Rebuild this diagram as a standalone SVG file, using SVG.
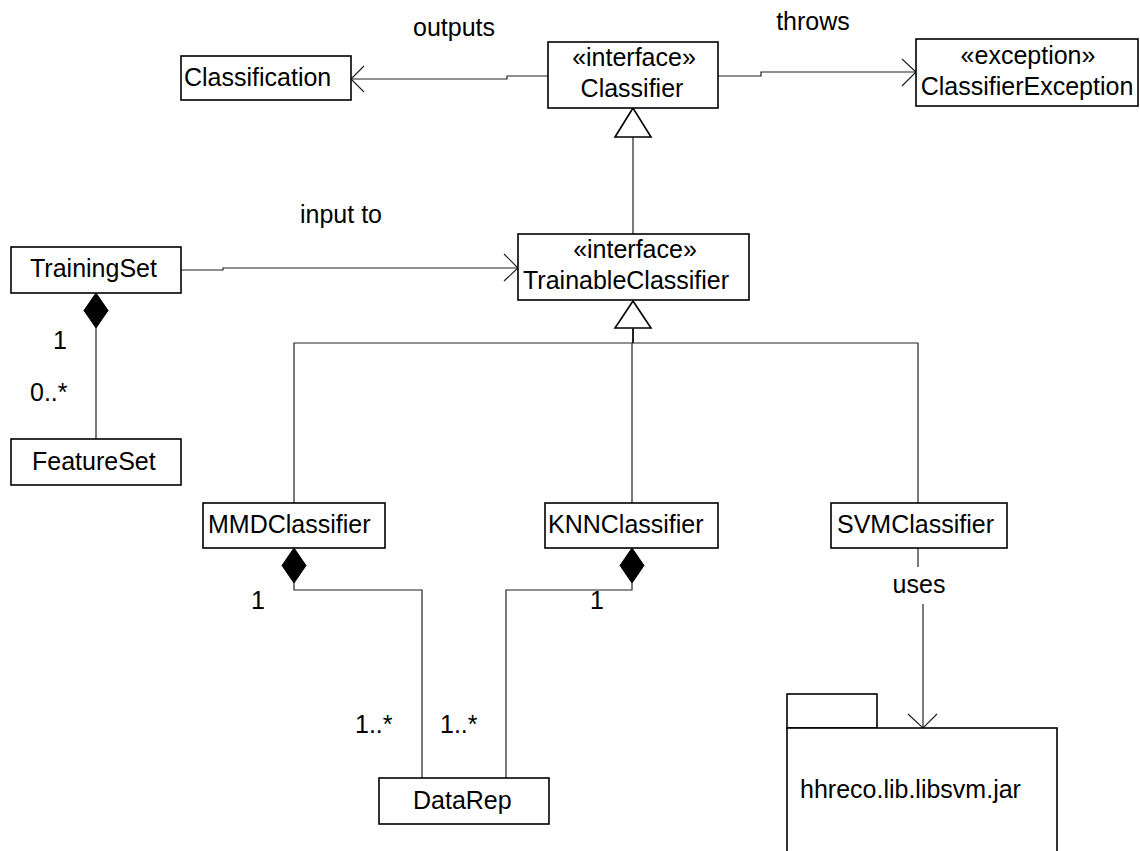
<svg xmlns="http://www.w3.org/2000/svg" width="1140" height="851" viewBox="0 0 1140 851">
<style>
.box{fill:#fff;stroke:#000;stroke-width:1.6}
.t{font-family:"Liberation Sans",Arial,sans-serif;font-size:25px;fill:#000}
.m{text-anchor:middle}
.c{fill:none;stroke:#222;stroke-width:1.2}
.gen{fill:#fff;stroke:#000;stroke-width:1.6}
.dia{fill:#000;stroke:#000;stroke-width:1}
</style>
<rect width="1140" height="851" fill="#fff"/>
<g id="connectors">
  <path class="c" d="M548,76 H507 V79 H351"/>
  <path class="c" d="M364,66 L351,79 L364,92"/>
  <text class="t m" x="454" y="36">outputs</text>
  <path class="c" d="M718,76 H761 V72 H916"/>
  <path class="c" d="M902,59 L916,72 L902,86"/>
  <text class="t m" x="813" y="30">throws</text>
  <path class="c" d="M633,137 V234"/>
  <polygon class="gen" points="633,108 615,137 651,137"/>
  <path class="c" d="M181,270 H223 V268 H518"/>
  <path class="c" d="M504,254 L518,268 L504,281"/>
  <text class="t m" x="341" y="223">input to</text>
  <path class="c" d="M96,328 V439"/>
  <polygon class="dia" points="96,293 108,310.5 96,328 84,310.5"/>
  <text class="t m" x="60" y="349">1</text>
  <text class="t" x="30" y="401">0..*</text>
  <polygon class="gen" points="633,301 615,328 651,328"/>
  <path class="c" d="M633,328 V343" style="stroke-width:2"/>
  <path class="c" d="M294,503 V343 H918 V503"/>
  <path class="c" d="M632,343 V503"/>
  <path class="c" d="M294,583 V590 H422 V778"/>
  <polygon class="dia" points="294,548 306,565.5 294,583 282,565.5"/>
  <text class="t m" x="258" y="609">1</text>
  <path class="c" d="M632,583 V590 H506 V778"/>
  <polygon class="dia" points="632,548 644,565.5 632,583 620,565.5"/>
  <text class="t m" x="597" y="609">1</text>
  <text class="t" x="355" y="733">1..*</text>
  <text class="t" x="440" y="733">1..*</text>
  <path class="c" d="M918,548 V567"/>
  <text class="t m" x="919" y="593">uses</text>
  <path class="c" d="M923,604 V728"/>
  <path class="c" d="M908,714 L923,728 L937,714"/>
</g>
<g id="Classification">
  <rect class="box" x="181" y="56" width="170" height="44"/>
  <text class="t" x="184" y="86">Classification</text>
</g>
<g id="Classifier">
  <rect class="box" x="548" y="42" width="170" height="66"/>
  <text class="t m" x="634" y="66">«interface»</text>
  <text class="t m" x="632" y="97">Classifier</text>
</g>
<g id="ClassifierException">
  <rect class="box" x="916" y="39" width="222" height="67"/>
  <text class="t m" x="1028" y="64">«exception»</text>
  <text class="t m" x="1027" y="95">ClassifierException</text>
</g>
<g id="TrainingSet">
  <rect class="box" x="11" y="247" width="170" height="46"/>
  <text class="t" x="30" y="277">TrainingSet</text>
</g>
<g id="FeatureSet">
  <rect class="box" x="11" y="439" width="170" height="46"/>
  <text class="t" x="32" y="470">FeatureSet</text>
</g>
<g id="TrainableClassifier">
  <rect class="box" x="518" y="234" width="231" height="66"/>
  <text class="t m" x="635" y="258">«interface»</text>
  <text class="t" x="523" y="289">TrainableClassifier</text>
</g>
<g id="MMDClassifier">
  <rect class="box" x="203" y="503" width="182" height="45"/>
  <text class="t" x="208" y="533">MMDClassifier</text>
</g>
<g id="KNNClassifier">
  <rect class="box" x="545" y="503" width="173" height="45"/>
  <text class="t" x="548" y="533">KNNClassifier</text>
</g>
<g id="SVMClassifier">
  <rect class="box" x="831" y="503" width="176" height="45"/>
  <text class="t" x="837" y="533">SVMClassifier</text>
</g>
<g id="DataRep">
  <rect class="box" x="379" y="778" width="170" height="46"/>
  <text class="t" x="413" y="809">DataRep</text>
</g>
<g id="libsvm">
  <rect class="box" x="787" y="694" width="90" height="34"/>
  <rect class="box" x="787" y="728" width="270" height="140"/>
  <text class="t" x="800" y="798">hhreco.lib.libsvm.jar</text>
</g>
</svg>
